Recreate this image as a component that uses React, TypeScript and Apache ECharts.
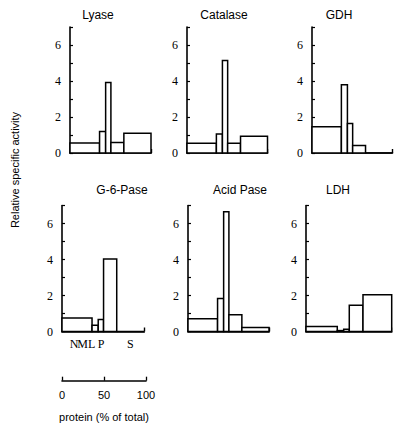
import React, { useEffect, useRef } from "react";
import * as echarts from "echarts";

// Subcellular fractions and their share of total protein (%)
const fractions = ["N", "M", "L", "P", "S"];
const proteinPct = [36.5, 7.5, 6.5, 16, 33.5];
// Positions (in % of protein) where the fraction letters are written under G-6-Pase
const fractionLabelPos = [14.6, 25, 36, 47.4, 83];

// Relative specific activity per fraction (N, M, L, P, S)
const lyase = [0.55, 1.2, 3.92, 0.58, 1.1];
const catalase = [0.54, 1.06, 5.14, 0.54, 0.93];
const gdh = [1.46, 3.79, 1.64, 0.41, 0];
const g6pase = [0.75, 0.35, 0.66, 4.03, 0];
const acidPase = [0.71, 1.84, 6.65, 0.93, 0.22];
const ldh = [0.28, 0.05, 0.13, 1.46, 2.04];

const panelNames = ["Lyase", "Catalase", "GDH", "G-6-Pase", "Acid Pase", "LDH"];
const panelValues = [lyase, catalase, gdh, g6pase, acidPase, ldh];

const yMax = 7;
const yLabelled = [0, 2, 4, 6];
const scaleTicks = [0, 50, 100];

// layout (pixels)
const panelLeft = [70, 187, 312, 62, 188, 306];
const panelWidth = [81, 80.5, 80.5, 82.3, 81, 85.7];
const rowTop = [27, 205.5];
const panelHeight = 126;
const titleX = [98, 224, 339, 122, 240, 338];
const titleY = [15, 190];

const SERIF = "'Liberation Serif', 'Times New Roman', serif";
const SANS = "'Liberation Sans', Arial, sans-serif";

function buildBars(values: number[]) {
  const out: number[][] = [];
  let start = 0;
  for (let i = 0; i < values.length; i++) {
    const end = start + proteinPct[i];
    out.push([start, end, values[i]]);
    start = end;
  }
  return out;
}

export default function App() {
  const ref = useRef<HTMLDivElement>(null);
  useEffect(() => {
    if (!ref.current) return;
    const chart = echarts.init(ref.current, null, { renderer: "svg" });

    const grids: any[] = [];
    const xAxes: any[] = [];
    const yAxes: any[] = [];
    const series: any[] = [];
    const graphics: any[] = [];

    panelNames.forEach((name, i) => {
      const row = i < 3 ? 0 : 1;
      grids.push({
        left: panelLeft[i],
        top: rowTop[row],
        width: panelWidth[i],
        height: panelHeight,
        containLabel: false,
      });
      xAxes.push({
        gridIndex: i,
        type: "value",
        min: 0,
        max: 100,
        splitLine: { show: false },
        axisLine: { show: true, onZero: false, lineStyle: { color: "#000", width: 1.6 } },
        axisTick: {
          show: true,
          inside: true,
          length: 4,
          customValues: [100],
          lineStyle: { color: "#000", width: 1.4 },
        },
        axisLabel: { show: false },
      });
      yAxes.push({
        gridIndex: i,
        type: "value",
        min: 0,
        max: yMax,
        interval: 1,
        splitLine: { show: false },
        axisLine: { show: true, lineStyle: { color: "#000", width: 1.6 } },
        axisTick: { show: true, inside: true, length: 3, lineStyle: { color: "#000", width: 1.2 } },
        axisLabel: {
          show: true,
          margin: 9,
          color: "#000",
          fontFamily: SERIF,
          fontSize: 12,
          formatter: (v: number) => (yLabelled.indexOf(v) >= 0 ? String(v) : ""),
        },
      });
      series.push({
        type: "custom",
        xAxisIndex: i,
        yAxisIndex: i,
        data: buildBars(panelValues[i]),
        encode: { x: [0, 1], y: 2 },
        renderItem: (params: any, api: any) => {
          const x0 = api.value(0);
          const x1 = api.value(1);
          const h = api.value(2);
          const p0 = api.coord([x0, 0]);
          const p1 = api.coord([x1, h]);
          return {
            type: "rect",
            shape: { x: p0[0], y: p1[1], width: p1[0] - p0[0], height: p0[1] - p1[1] },
            style: { fill: "#fff", stroke: "#000", lineWidth: 1.5 },
          };
        },
      });
      graphics.push({
        type: "text",
        x: titleX[i],
        y: titleY[row],
        style: {
          text: name,
          fill: "#000",
          fontFamily: SANS,
          fontSize: 12,
          align: "center",
          verticalAlign: "middle",
        },
      });
    });

    // scale bar: protein (% of total)
    grids.push({ left: 62, top: 360, width: 84, height: 20.7 });
    xAxes.push({
      gridIndex: 6,
      type: "value",
      min: 0,
      max: 100,
      interval: 50,
      splitLine: { show: false },
      axisLine: { show: true, onZero: false, lineStyle: { color: "#000", width: 1.6 } },
      axisTick: { show: true, inside: true, length: 4, lineStyle: { color: "#000", width: 1.3 } },
      axisLabel: {
        show: true,
        margin: 9,
        color: "#000",
        fontFamily: SANS,
        fontSize: 11,
        customValues: scaleTicks,
      },
      name: "protein (% of total)",
      nameLocation: "middle",
      nameGap: 31,
      nameTextStyle: { color: "#000", fontFamily: SANS, fontSize: 11 },
    });
    yAxes.push({ gridIndex: 6, type: "value", show: false, min: 0, max: 1 });

    graphics.push({
      type: "text",
      x: 15,
      y: 170,
      rotation: Math.PI / 2,
      style: {
        text: "Relative specific activity",
        fill: "#000",
        fontFamily: SANS,
        fontSize: 11,
        align: "center",
        verticalAlign: "middle",
      },
    });

    chart.setOption({
      animation: false,
      backgroundColor: "#fff",
      grid: grids,
      xAxis: xAxes,
      yAxis: yAxes,
      series,
      graphic: graphics,
    });

    // fraction letters under the G-6-Pase panel, placed through its axes
    const g6Index = panelNames.indexOf("G-6-Pase");
    const baseY = chart.convertToPixel({ yAxisIndex: g6Index }, 0) as number;
    const letters = fractions.map((f, k) => ({
      type: "text",
      x: chart.convertToPixel({ xAxisIndex: g6Index }, fractionLabelPos[k]) as number,
      y: baseY + 12,
      style: {
        text: f,
        fill: "#000",
        fontFamily: SERIF,
        fontSize: 12,
        align: "center",
        verticalAlign: "middle",
      },
    }));
    chart.setOption({ graphic: graphics.concat(letters) });

    return () => chart.dispose();
  }, []);

  return (
    <div
      ref={ref}
      style={{ position: "fixed", left: 0, top: 0, width: 405, height: 428, background: "#fff" }}
    />
  );
}
